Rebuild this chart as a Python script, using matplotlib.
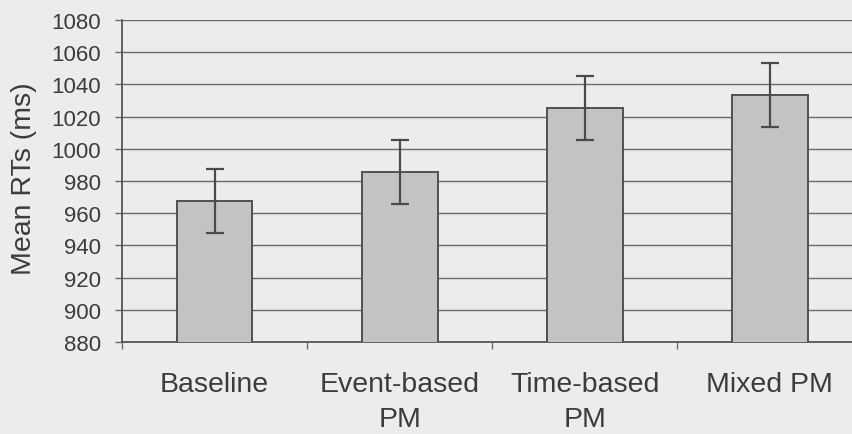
import matplotlib
matplotlib.use("Agg")
import matplotlib.pyplot as plt
import numpy as np

# Mean reaction times per condition with error bars
conditions = ["Baseline", "Event-based\nPM", "Time-based\nPM", "Mixed PM"]
mean_rt = [967.5, 985.5, 1025.3, 1033.5]
err_rt = [19.7, 19.9, 19.8, 20.0]
y_ticks = list(range(880, 1081, 20))

plt.rcParams["font.family"] = ["Liberation Sans", "DejaVu Sans"]

paper = "#ececea"
ink = "#3c3c3c"
line_col = "#6a6a6a"

fig = plt.figure(figsize=(8.53, 4.35), dpi=100, facecolor=paper)
ax = fig.add_axes([122 / 853, 1 - 343 / 435, 1 - 122 / 853, (343 - 21) / 435])
ax.set_facecolor(paper)

x = np.arange(len(conditions))
ax.bar(x, mean_rt, width=0.41, color="#c3c3c3", edgecolor="#505050",
       linewidth=1.4, zorder=3)
ax.errorbar(x, mean_rt, yerr=err_rt, fmt="none", ecolor="#4a4a4a",
            elinewidth=1.6, capsize=6.5, capthick=1.6, zorder=4)

ax.set_ylim(880, 1080)
ax.set_xlim(-0.5, 3.45)
ax.set_yticks(y_ticks)
ax.set_yticklabels([str(v) for v in y_ticks], fontsize=16, color=ink)
ax.yaxis.grid(True, color=line_col, linewidth=1.0, zorder=0)
ax.set_axisbelow(True)

ax.set_xticks(x)
ax.set_xticklabels(conditions, fontsize=20.5, color=ink, linespacing=1.45)
ax.set_xticks(np.arange(-0.5, 3.5, 1.0), minor=True)
ax.tick_params(axis="x", which="major", length=0, pad=21)
ax.tick_params(axis="x", which="minor", length=5, width=1, color=line_col,
               direction="out")
ax.tick_params(axis="y", length=5, width=1, color=line_col, pad=10)

for side in ("top", "right"):
    ax.spines[side].set_visible(False)
for side in ("left", "bottom"):
    ax.spines[side].set_color("#555555")
    ax.spines[side].set_linewidth(1.3)

ax.set_ylabel("Mean RTs (ms)", fontsize=20.5, color=ink, labelpad=12)
ax.yaxis.set_label_coords(-0.116, 0.51)

fig.savefig("out.png", dpi=100, facecolor=paper)
